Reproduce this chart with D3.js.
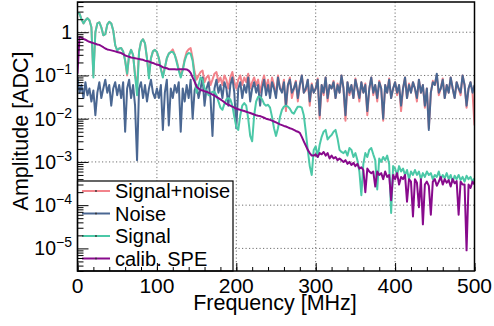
<!DOCTYPE html>
<html><head><meta charset="utf-8">
<script src="https://cdn.jsdelivr.net/npm/d3@7"></script>
<style>
body{margin:0;background:#fff}
svg{display:block}
text{font-family:"Liberation Sans",Arial,Helvetica,sans-serif;fill:#000}
</style>
</head><body>
<svg id="c" width="494" height="326"></svg>
<script>
// frequency grid step (MHz); sample i is at i*freqStepMHz
const freqStepMHz = 2.5;

const signalNoise = [
 2.8,2.7,2.0,1.6,1.9,2.1,1.9,1.3,0.1,1.0,
 1.6,1.7,1.3,0.85,0.9,1.5,1.75,1.6,1.1,0.5,
 0.38,0.42,0.43,0.36,0.22,0.1,0.3,0.39,0.3,0.1,
 0.06,0.35,0.6,0.69,0.55,0.25,0.095,0.25,0.36,0.39,
 0.35,0.25,0.14,0.1,0.15,0.25,0.32,0.35,0.4,0.3,
 0.22,0.14,0.1,0.14,0.24,0.35,0.4,0.43,0.25,0.12,
 0.08,0.1,0.12,0.13,0.07,0.09,0.1,0.06,0.08,0.11,
 0.12,0.07,0.09,0.06,0.1,0.08,0.05,0.09,0.12,0.07,
 0.05,0.08,0.1,0.06,0.09,0.07,0.11,0.05,0.07,0.09,
 0.06,0.08,0.04,0.07,0.1,0.05,0.08,0.04,0.09,0.06,
 0.035,0.1,0.05,0.045,0.08,0.015,0.06,0.09,0.03,0.05,
 0.075,0.025,0.06,0.1,0.04,0.045,0.08,0.02,0.065,0.04,
 0.05,0.085,0.01,0.06,0.035,0.09,0.025,0.06,0.05,0.075,
 0.03,0.065,0.04,0.1,0.05,0.009,0.07,0.035,0.06,0.03,
 0.085,0.05,0.025,0.07,0.04,0.065,0.012,0.05,0.09,0.035,
 0.06,0.025,0.075,0.05,0.009,0.06,0.04,0.085,0.03,0.05,
 0.07,0.035,0.06,0.015,0.05,0.09,0.03,0.065,0.04,0.07,
 0.05,0.025,0.08,0.04,0.06,0.018,0.05,0.006,0.04,0.075,
 0.06,0.1,0.035,0.05,0.085,0.03,0.06,0.04,0.09,0.05,
 0.03,0.07,0.05,0.035,0.1,0.06,0.018,0.05,0.07,0.04,
 0.007
];

const noise = [
 0.09,0.04,0.06,0.03,0.07,0.035,0.05,0.025,0.045,0.012,
 0.04,0.07,0.03,0.05,0.08,0.04,0.06,0.02,0.05,0.07,
 0.035,0.06,0.03,0.07,0.005,0.05,0.08,0.03,0.06,0.02,
 0.0011,0.05,0.07,0.03,0.06,0.025,0.05,0.08,0.04,0.03,
 0.05,0.03,0.06,0.0055,0.04,0.08,0.007,0.05,0.03,0.06,
 0.04,0.07,0.005,0.05,0.025,0.06,0.03,0.08,0.01,0.045,
 0.06,0.03,0.05,0.09,0.02,0.05,0.07,0.03,0.004,0.05,
 0.08,0.04,0.06,0.03,0.07,0.05,0.02,0.06,0.09,0.04,
 0.006,0.05,0.07,0.03,0.06,0.04,0.09,0.025,0.05,0.07,
 0.04,0.06,0.02,0.05,0.08,0.035,0.06,0.03,0.07,0.05,
 0.03,0.09,0.05,0.04,0.07,0.02,0.06,0.08,0.04,0.05,
 0.07,0.03,0.06,0.1,0.04,0.05,0.08,0.025,0.06,0.04,
 0.05,0.08,0.012,0.06,0.04,0.09,0.03,0.06,0.05,0.07,
 0.03,0.06,0.04,0.1,0.05,0.012,0.07,0.04,0.06,0.03,
 0.08,0.05,0.03,0.07,0.04,0.06,0.015,0.05,0.09,0.04,
 0.06,0.03,0.07,0.05,0.01,0.06,0.04,0.08,0.03,0.05,
 0.07,0.04,0.06,0.02,0.05,0.09,0.03,0.06,0.04,0.07,
 0.05,0.03,0.08,0.04,0.06,0.02,0.05,0.0055,0.04,0.07,
 0.06,0.11,0.04,0.05,0.08,0.03,0.06,0.04,0.09,0.05,
 0.03,0.07,0.05,0.04,0.1,0.06,0.02,0.05,0.07,0.04,
 0.06
];

const signal = [
 2.8,2.7,2.0,1.6,1.9,2.1,1.9,1.3,0.09,1.0,
 1.6,1.7,1.3,0.85,0.9,1.5,1.75,1.6,1.1,0.5,
 0.38,0.42,0.43,0.36,0.22,0.11,0.3,0.39,0.3,0.1,
 0.035,0.35,0.6,0.69,0.55,0.25,0.085,0.25,0.36,0.39,
 0.35,0.25,0.14,0.09,0.15,0.25,0.32,0.35,0.35,0.3,
 0.2,0.13,0.09,0.13,0.22,0.3,0.33,0.32,0.22,0.09,
 0.04,0.06,0.09,0.08,0.05,0.045,0.035,0.038,0.042,0.042,
 0.035,0.025,0.018,0.016,0.022,0.028,0.03,0.028,0.02,0.011,
 0.0065,0.0055,0.012,0.02,0.023,0.02,0.01,0.004,0.003,0.012,
 0.025,0.032,0.032,0.028,0.022,0.02,0.021,0.018,0.011,0.006,
 0.004,0.006,0.011,0.016,0.019,0.02,0.019,0.017,0.014,0.013,
 0.016,0.019,0.019,0.018,0.012,0.005,0.0019,0.0008,0.0005,0.0019,
 0.0023,0.0013,0.0025,0.0038,0.005,0.0055,0.0033,0.0038,0.0042,0.005,
 0.0055,0.0035,0.0019,0.0017,0.0016,0.0018,0.0014,0.0021,0.0019,0.0013,
 0.0016,0.0011,0.0006,0.00017,0.0009,0.0016,0.0013,0.0019,0.0021,0.0015,
 0.0011,0.00023,0.0012,0.001,0.0013,0.0011,0.0014,0.0009,0.000066,0.0008,
 0.0007,0.0005,0.0008,0.0006,0.0007,0.0005,0.00065,0.0004,0.0006,0.0005,
 0.00065,0.0005,0.0006,0.0004,0.00055,0.00045,0.0006,0.0005,0.00055,0.0004,
 0.0005,0.00045,0.0006,0.0004,0.0005,0.00042,0.00055,0.0004,0.0005,0.00035,
 0.00048,0.0004,0.0005,0.00038,0.00045,0.00035,0.00048,0.0004,0.00045,0.00035,
 0.00042
];

const calibSPE = [
 0.11,0.78,0.75,0.7,0.67,0.63,0.6,0.58,0.56,0.54,
 0.52,0.51,0.48,0.45,0.42,0.4,0.39,0.38,0.37,0.36,
 0.35,0.34,0.33,0.31,0.29,0.28,0.27,0.26,0.255,0.25,
 0.245,0.24,0.235,0.23,0.22,0.215,0.21,0.2,0.195,0.185,
 0.18,0.175,0.165,0.155,0.15,0.147,0.14,0.14,0.14,0.14,
 0.138,0.14,0.139,0.14,0.14,0.138,0.13,0.115,0.09,0.072,
 0.055,0.05,0.046,0.045,0.043,0.042,0.04,0.038,0.036,0.034,
 0.032,0.03,0.028,0.026,0.024,0.022,0.021,0.02,0.019,0.018,
 0.0172,0.0165,0.016,0.0155,0.015,0.0145,0.014,0.0135,0.013,0.0125,
 0.012,0.0117,0.0115,0.011,0.0105,0.01,0.0097,0.0094,0.009,0.0086,
 0.0082,0.0078,0.0074,0.0071,0.0068,0.0066,0.0063,0.006,0.0058,0.0055,
 0.0052,0.005,0.0047,0.0038,0.003,0.0024,0.0019,0.0016,0.0014,0.0014,
 0.0015,0.0013,0.0016,0.0015,0.0017,0.0014,0.0016,0.0012,0.0014,0.0012,
 0.0013,0.0011,0.0012,0.0011,0.001,0.0011,0.0009,0.001,0.00085,0.00095,
 0.0008,0.0009,0.0007,0.00075,0.00065,0.0002,0.0007,0.0006,0.00055,0.0006,
 0.00027,0.0006,0.0005,0.00055,0.0004,0.0006,0.00045,0.0005,0.00013,0.0005,
 0.0004,0.00055,0.0003,0.00045,0.0004,0.0005,0.00012,0.0004,0.00035,0.000055,
 0.0004,0.00033,0.00009,0.0004,0.000036,0.0003,0.00035,0.00028,0.00006,0.00035,
 0.0004,0.00028,0.00035,0.00045,0.0003,0.0004,0.00033,0.00038,0.00027,0.0004,
 0.00032,0.00036,0.00006,0.00035,0.0003,0.0003,0.000009,0.0003,0.00025,0.00035,
 0.0003
];

const xTickLabels = [0,100,200,300,400,500];
const yTickExponents = [0,-1,-2,-3,-4,-5];
const seriesNames = ["Signal+noise","Noise","Signal","calib. SPE"];
const seriesColors = ["#f2838b","#4a6792","#4bc8a7","#880a8c"];
const seriesData = [signalNoise, noise, signal, calibSPE];

const L = 77.5, R = 474.5, T = 2, B = 271;
const svg = d3.select("#c");
const x = d3.scaleLinear().domain([0, 500]).range([L, R]);
const y = d3.scaleLog().domain([3e-6, 5]).range([B, T]);

svg.append("rect").attr("width",494).attr("height",326).attr("fill","#fff");

// grid
const grid = svg.append("g").attr("stroke","#6f6f6f").attr("stroke-width",1).attr("stroke-dasharray","1.2,2.3");
xTickLabels.filter(v => v > 0 && v < 500).forEach(v => {
  grid.append("line").attr("x1",x(v)).attr("x2",x(v)).attr("y1",T).attr("y2",B);
});
yTickExponents.forEach(e => {
  const v = Math.pow(10, e);
  grid.append("line").attr("x1",L).attr("x2",R).attr("y1",y(v)).attr("y2",y(v));
});

// data
svg.append("clipPath").attr("id","clip").append("rect")
  .attr("x",L).attr("y",T).attr("width",R-L).attr("height",B-T);
const line = d3.line().x((d,i) => x(i*freqStepMHz)).y(d => y(d));
const plot = svg.append("g").attr("clip-path","url(#clip)");
seriesData.forEach((arr, k) => {
  plot.append("path").datum(arr).attr("d", line)
    .attr("fill","none").attr("stroke",seriesColors[k])
    .attr("stroke-width",2).attr("stroke-linejoin","round");
});

// legend
const lg = svg.append("g");
lg.append("rect").attr("x",L).attr("y",181).attr("width",233-L).attr("height",B-181)
  .attr("fill","#fff").attr("stroke","#000").attr("stroke-width",1.2);
seriesNames.forEach((n, k) => {
  const yy = 191 + k*22.5;
  lg.append("line").attr("x1",82).attr("x2",110).attr("y1",yy).attr("y2",yy)
    .attr("stroke",seriesColors[k]).attr("stroke-width",2);
  lg.append("circle").attr("cx",96).attr("cy",yy).attr("r",0.9).attr("fill","#333");
  lg.append("text").attr("x",115).attr("y",yy+7).attr("font-size",20).text(n);
});

// axes ticks (inward)
function clean(g){ g.select(".domain").remove(); g.selectAll("line").attr("stroke","#000"); g.selectAll("text").remove(); }
svg.append("g").attr("transform",`translate(0,${B})`)
  .call(d3.axisBottom(x).tickValues(d3.range(0,501,20)).tickSize(-4)).call(clean);
svg.append("g").attr("transform",`translate(0,${B})`)
  .call(d3.axisBottom(x).tickValues(xTickLabels).tickSize(-8)).call(clean);
const minors = [];
for (let e = -6; e <= 0; e++) for (let k = 2; k <= 9; k++) {
  const v = k*Math.pow(10,e);
  if (v >= 3e-6 && v <= 5) minors.push(v);
}
svg.append("g").attr("transform",`translate(${L},0)`)
  .call(d3.axisLeft(y).tickValues(minors).tickSize(-6)).call(clean);
svg.append("g").attr("transform",`translate(${L},0)`)
  .call(d3.axisLeft(y).tickValues(yTickExponents.map(e => Math.pow(10,e))).tickSize(-11)).call(clean);

// frame
svg.append("rect").attr("x",L).attr("y",T).attr("width",R-L).attr("height",B-T)
  .attr("fill","none").attr("stroke","#000").attr("stroke-width",1.5);

// tick labels
xTickLabels.forEach(v => {
  svg.append("text").attr("x",x(v)).attr("y",292.5).attr("text-anchor","middle")
    .attr("font-size",21).text(v);
});
yTickExponents.forEach(e => {
  const t = svg.append("text").attr("x",72).attr("y",y(Math.pow(10,e))+7)
    .attr("text-anchor","end").attr("font-size",19.5);
  if (e === 0) { t.text("1"); }
  else {
    t.append("tspan").text("10");
    t.append("tspan").attr("font-size",14).attr("dy",-8).text("\u2212" + (-e));
  }
});

// titles
svg.append("text").attr("x",(L+R)/2 - 1).attr("y",310).attr("text-anchor","middle")
  .attr("font-size",21.5).text("Frequency [MHz]");
svg.append("text").attr("transform","translate(27.5,131) rotate(-90)")
  .attr("text-anchor","middle").attr("font-size",21.5).text("Amplitude [ADC]");
</script>
</body></html>
